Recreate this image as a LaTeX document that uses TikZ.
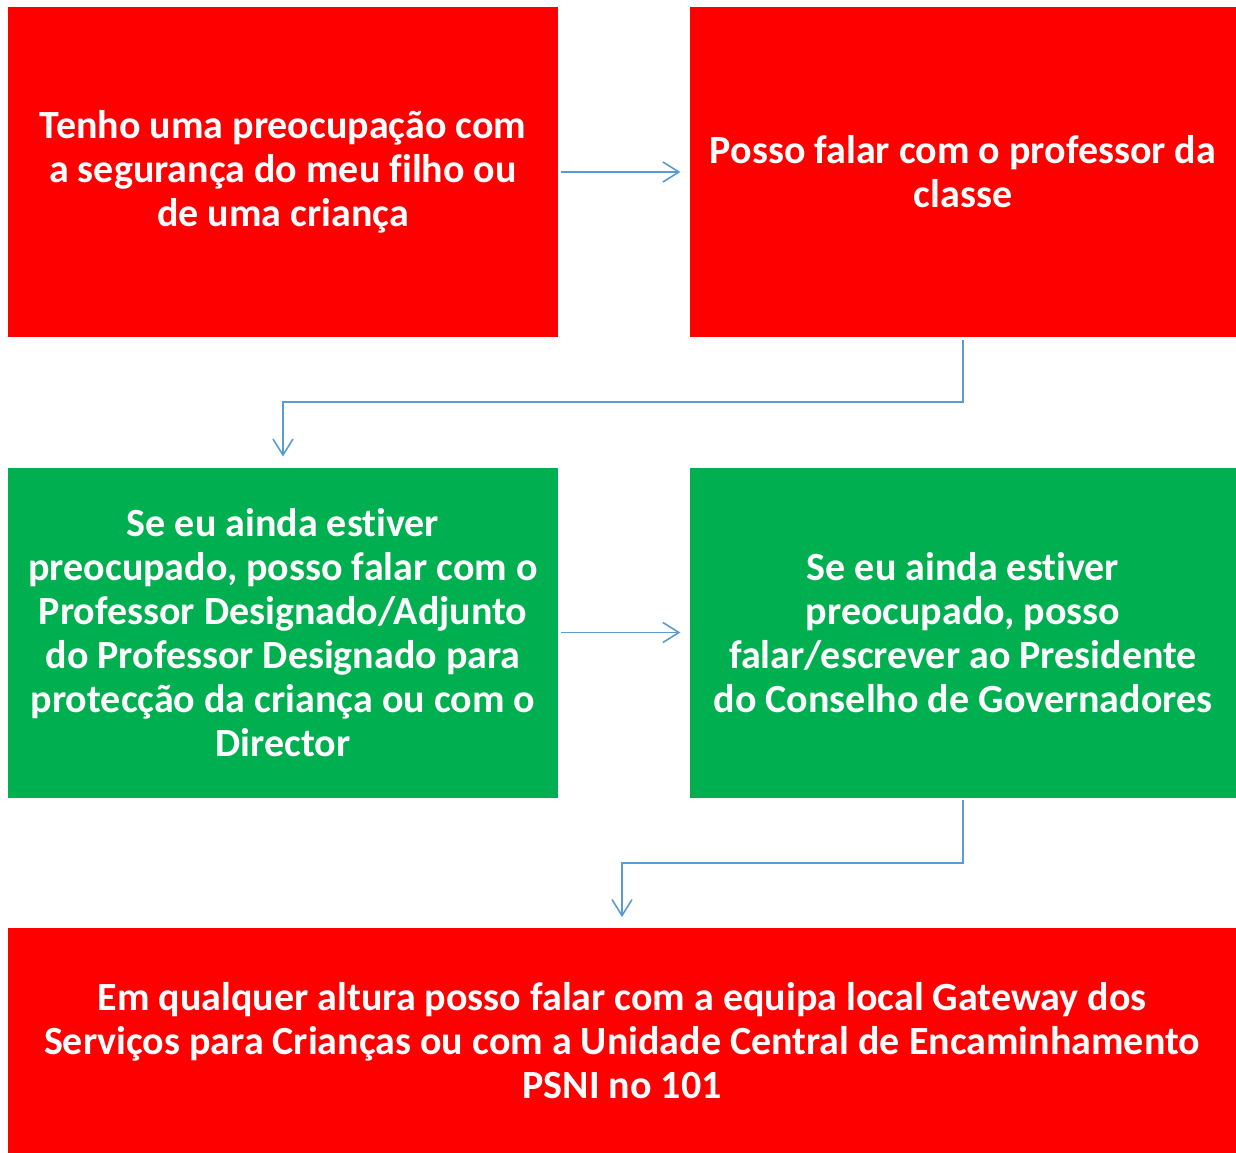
\documentclass[tikz,border=0pt]{standalone}
\usepackage{fontspec}
\setmainfont{Carlito}[Ligatures=NoCommon]
\usetikzlibrary{arrows.meta}

\definecolor{boxred}{HTML}{FF0000}
\definecolor{boxgreen}{HTML}{00B050}
\definecolor{linkblue}{HTML}{5B9BD5}

\tikzset{
  stage/.style={text=white, inner sep=0pt, align=center,
    font=\bfseries\fontsize{30}{33}\selectfont},
  redstage/.style={stage, fill=boxred},
  greenstage/.style={stage, fill=boxgreen},
  link/.style={draw=linkblue, line width=1.2pt,
    -{Straight Barb[length=12pt,width=15pt]}}
}

\begin{document}
\begin{tikzpicture}[x=0.75pt,y=-0.75pt]
  \useasboundingbox (0,0) rectangle (1236,1153);

  \node[redstage, minimum width=413pt, minimum height=247.5pt] (worry) at (283,172)
    {Tenho uma preocupação com\\a segurança do meu filho ou\\de uma criança};
  \node[redstage, minimum width=409.5pt, minimum height=247.5pt] (teacher) at (963,172)
    {Posso falar com o professor da\\classe};
  \node[greenstage, minimum width=413pt, minimum height=247.5pt] (designated) at (283,632.5)
    {Se eu ainda estiver\\preocupado, posso falar com o\\Professor Designado/Adjunto\\do Professor Designado para\\protecção da criança ou com o\\Director};
  \node[greenstage, minimum width=409.5pt, minimum height=247.5pt] (chair) at (963,632.5)
    {Se eu ainda estiver\\preocupado, posso\\falar/escrever ao Presidente\\do Conselho de Governadores};
  \node[redstage, minimum width=921.5pt, minimum height=168.75pt] (gateway) at (622,1040.5)
    {Em qualquer altura posso falar com a equipa local Gateway dos\\Serviços para Crianças ou com a Unidade Central de Encaminhamento\\PSNI no 101};

  \draw[link, shorten <=2pt, shorten >=7pt] (worry) -- (teacher);
  \draw[link, shorten <=2pt, shorten >=7pt] (designated) -- (chair);
  \draw[link, shorten <=2pt, shorten >=8pt] (teacher.south) -- ++(0,65) -| (designated.north);
  \draw[link, shorten <=2pt, shorten >=8pt] (chair.south) -- ++(0,65) -| (gateway.north);
\end{tikzpicture}
\end{document}
